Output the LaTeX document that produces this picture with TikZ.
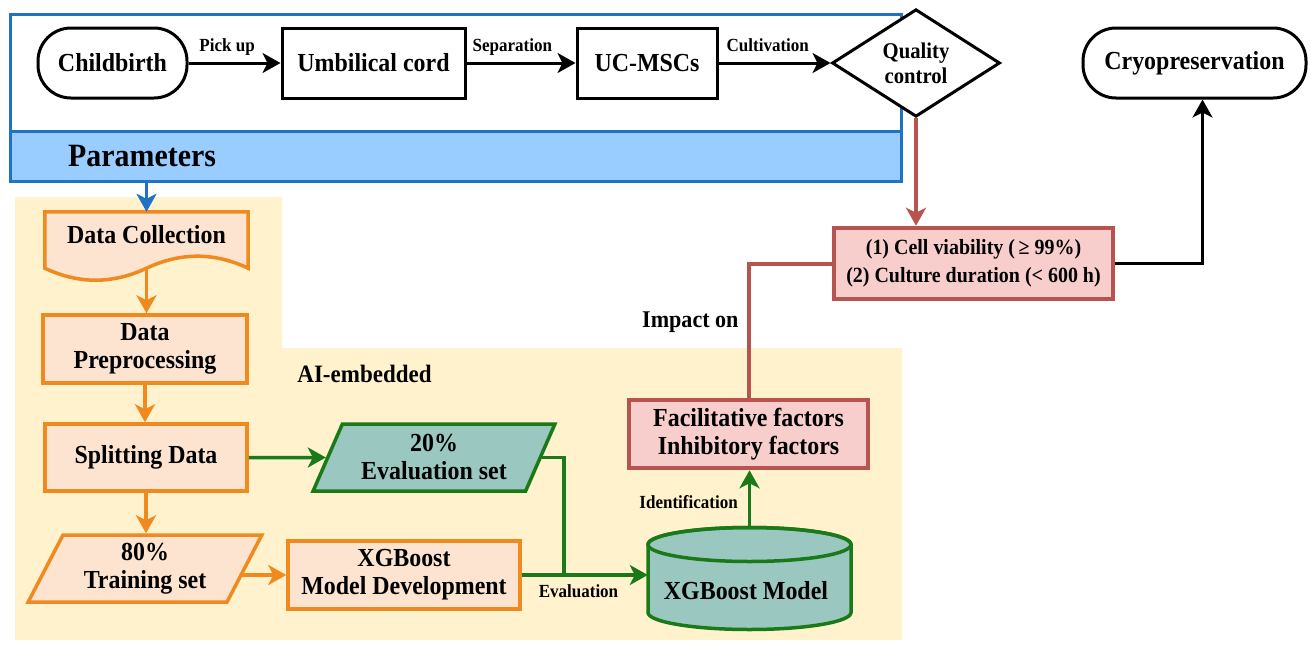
\documentclass[tikz,border=0pt]{standalone}
\usepackage{fontspec}
\setmainfont{Liberation Serif}[FakeStretch=0.92]
\usetikzlibrary{arrows.meta,shapes.geometric,calc}
\definecolor{bluestroke}{HTML}{1F72C4}
\definecolor{bluefill}{HTML}{99CCFF}
\definecolor{yellowbg}{HTML}{FFF2CC}
\definecolor{orstroke}{HTML}{F0891E}
\definecolor{orfill}{HTML}{FDE4D0}
\definecolor{grstroke}{HTML}{1A7A1A}
\definecolor{tealfill}{HTML}{9AC7BF}
\definecolor{redstroke}{HTML}{B85450}
\definecolor{redfill}{HTML}{F8CECC}
\begin{document}
\begin{tikzpicture}[x=1pt,y=-1pt,
  every node/.style={font=\bfseries, inner sep=0pt, align=center},
  bigtxt/.style={font=\bfseries\fontsize{26}{28}\selectfont},
  blackbox/.style={draw=black, line width=3pt, fill=white, bigtxt},
  stadium/.style={blackbox, rounded corners=33pt},
  orbox/.style={draw=orstroke, fill=orfill, line width=3.5pt, bigtxt},
  redbox/.style={draw=redstroke, fill=redfill, line width=4.5pt, bigtxt},
  para/.style={trapezium, trapezium left angle=63, trapezium right angle=117, trapezium stretches=true},
  lbl/.style={font=\bfseries\fontsize{18.5}{20}\selectfont, text height=12.5pt, text depth=4pt},
  tipstyle/.tip={Stealth[length=18pt,width=20pt,inset=5pt]},
  blkarrow/.style={draw=black, line width=3pt, -tipstyle},
  orarrow/.style={draw=orstroke, line width=3.5pt, -tipstyle},
  grline/.style={draw=grstroke, line width=3.5pt},
  grarrow/.style={grline, -tipstyle},
  redline/.style={draw=redstroke, line width=4pt},
  redarrow/.style={redline, -tipstyle},
  bluearrow/.style={draw=bluestroke, line width=3pt, -tipstyle}
]
\useasboundingbox (0,0) rectangle (1311,648);
% backgrounds
\fill[yellowbg] (15,197) -- (282,197) -- (282,348) -- (902,348) -- (902,640) -- (15,640) -- cycle;
\node[draw=bluestroke, fill=bluefill, line width=3pt, minimum width=891pt, minimum height=50pt] (band) at (455.5,156) {};
\draw[bluestroke, line width=3pt] (10,131) -- (10,14) -- (901,14) -- (901,131);
\node[anchor=base west, font=\bfseries\fontsize{32.5}{34}\selectfont] (ptxt) at (68,166) {Parameters};

% top row
\node[stadium, minimum width=149pt, minimum height=70pt] (birth) at (112.5,63) {Childbirth};
\node[blackbox, minimum width=183pt, minimum height=70pt] (umb) at (373.5,63) {Umbilical cord};
\node[blackbox, minimum width=140pt, minimum height=70pt] (msc) at (647,63) {UC-MSCs};
\node[diamond, draw=black, fill=white, line width=3pt, minimum width=168pt, minimum height=84pt, font=\bfseries\fontsize{22.5}{25}\selectfont] (qc) at (916,63) {Quality\\control};
\node[stadium, minimum width=223pt, minimum height=70pt] (cryo) at (1194.5,63) {Cryopreservation};

\draw[blkarrow] (birth) -- (umb) node[lbl, pos=0.42, above=6pt] {Pick up};
\draw[blkarrow] (umb) -- (msc) node[lbl, pos=0.42, above=6pt] {Separation};
\draw[blkarrow] (msc) -- (qc) node[lbl, pos=0.44, above=6pt] {Cultivation};

% quality criteria
\node[redbox, minimum width=279pt, minimum height=71pt, font=\bfseries\fontsize{21.7}{28}\selectfont] (cell) at (973.5,263.5) {(1) Cell viability (\,≥ 99\%)\\(2) Culture duration (< 600 h)};
\node[redbox, minimum width=239pt, minimum height=68pt] (fac) at (748.5,434) {Facilitative factors\\Inhibitory factors};
\draw[redarrow] (qc.south) -- (qc.south |- cell.north);
\draw[redline] (cell.west) -| (fac.north) node[pos=0.72, left=8pt, font=\bfseries\fontsize{24}{26}\selectfont] {Impact on};
\draw[blkarrow] (cell.east) -| ($(cryo.south)+(8,0)$);

% AI part
\node[minimum width=203pt, minimum height=56pt] (dc) at (146.5,240) {};
\filldraw[draw=orstroke, fill=orfill, line width=3.5pt, line join=miter]
  (dc.north west) -- (dc.north east) -- (dc.south east)
  .. controls ($(dc.south east)+(-34,-16)$) and ($(dc.south)+(34,-16)$) .. (dc.south)
  .. controls ($(dc.south)+(-34,16)$) and ($(dc.south west)+(34,16)$) .. (dc.south west) -- cycle;
\node[bigtxt] (dctxt) at (146.5,235) {Data Collection};
\draw[bluearrow] (band.south -| dc.north) -- (dc.north);

\node[orbox, minimum width=204pt, minimum height=68pt] (dp) at (145,349) {Data\\Preprocessing};
\node[orbox, minimum width=202pt, minimum height=67pt] (split) at (146,457.5) {Splitting Data};
\node[para, draw=grstroke, fill=tealfill, line width=3.5pt, bigtxt, minimum width=242pt, minimum height=67pt] (eval) at (434,457.5) {20\%\\Evaluation set};
\node[para, orbox, minimum width=234pt, minimum height=67pt] (train) at (145,568.5) {80\%\\Training set};
\node[orbox, minimum width=232pt, minimum height=68pt] (xgbdev) at (404,575) {XGBoost\\Model Development};
\node[font=\bfseries\fontsize{25}{27}\selectfont] (ai) at (364.5,374) {AI-embedded};

\draw[orarrow] (dc.south) -- (dc.south |- dp.north);
\draw[orarrow] (dp.south) -- (dp.south |- split.north);
\draw[orarrow] (split.south) -- (split.south |- train.north);
\draw[orarrow] ($(train.east |- xgbdev.west)+(-4,0)$) -- (xgbdev.west);

% cylinder
\node[minimum width=203pt, minimum height=102pt] (cyl) at (749.5,578.5) {};
\filldraw[draw=grstroke, fill=tealfill, line width=3.5pt]
  (648,544.5) -- (648,612.5)
  .. controls (648,621.9) and (693.4,629.5) .. (749.5,629.5)
  .. controls (805.6,629.5) and (851,621.9) .. (851,612.5) -- (851,544.5)
  .. controls (851,535.1) and (805.6,527.5) .. (749.5,527.5)
  .. controls (693.4,527.5) and (648,535.1) .. (648,544.5) -- cycle;
\draw[draw=grstroke, line width=3.5pt] (749.5,544.5) ellipse [x radius=101.5pt, y radius=17pt];
\node[bigtxt] (cyltxt) at (746,591) {XGBoost Model};

\coordinate (jn) at (564,575);
\draw[grarrow] (split.east) -- (eval.west);
\draw[grline] (eval.east) -| (jn);
\draw[grarrow] (xgbdev.east) -- (xgbdev.east -| cyl.west) node[lbl, pos=0.45, below=8pt] {Evaluation};
\draw[grarrow] (cyl.north) -- (cyl.north |- fac.south) node[lbl, pos=0.41, left=10pt] {Identification};
\end{tikzpicture}
\end{document}
